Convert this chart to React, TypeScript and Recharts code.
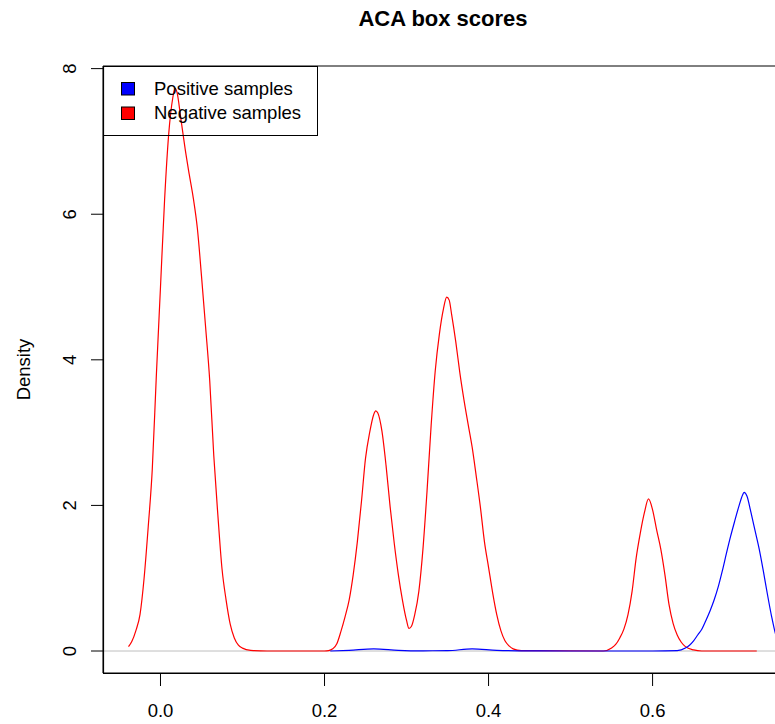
import React from "react";
import { LineChart, Line, XAxis, YAxis, ReferenceLine } from "recharts";

// Kernel density estimates of the ACA box scores, per class.
const negativeSamples = [
  { x: -0.039, y: 0.06 },
  { x: -0.035, y: 0.13 },
  { x: -0.03, y: 0.28 },
  { x: -0.025, y: 0.5 },
  { x: -0.02, y: 1.0 },
  { x: -0.015, y: 1.7 },
  { x: -0.01, y: 2.5 },
  { x: -0.005, y: 3.8 },
  { x: 0.0, y: 5.0 },
  { x: 0.005, y: 6.2 },
  { x: 0.01, y: 7.1 },
  { x: 0.015, y: 7.6 },
  { x: 0.0177, y: 7.73 },
  { x: 0.02, y: 7.68 },
  { x: 0.025, y: 7.3 },
  { x: 0.03, y: 6.9 },
  { x: 0.035, y: 6.55 },
  { x: 0.04, y: 6.22 },
  { x: 0.045, y: 5.8 },
  { x: 0.05, y: 5.15 },
  { x: 0.055, y: 4.45 },
  { x: 0.06, y: 3.72 },
  { x: 0.065, y: 2.68 },
  { x: 0.07, y: 1.86 },
  { x: 0.075, y: 1.13 },
  { x: 0.08, y: 0.7 },
  { x: 0.085, y: 0.37 },
  { x: 0.09, y: 0.18 },
  { x: 0.095, y: 0.08 },
  { x: 0.1, y: 0.04 },
  { x: 0.11, y: 0.01 },
  { x: 0.13, y: 0 },
  { x: 0.2, y: 0 },
  { x: 0.205, y: 0.005 },
  { x: 0.21, y: 0.03 },
  { x: 0.215, y: 0.1 },
  { x: 0.22, y: 0.27 },
  { x: 0.225, y: 0.47 },
  { x: 0.23, y: 0.7 },
  { x: 0.235, y: 1.05 },
  { x: 0.24, y: 1.5 },
  { x: 0.245, y: 2.05 },
  { x: 0.25, y: 2.65 },
  { x: 0.255, y: 3.0 },
  { x: 0.26, y: 3.25 },
  { x: 0.2624, y: 3.3 },
  { x: 0.265, y: 3.27 },
  { x: 0.27, y: 3.02 },
  { x: 0.275, y: 2.55 },
  { x: 0.28, y: 1.98 },
  { x: 0.285, y: 1.48 },
  { x: 0.29, y: 1.05 },
  { x: 0.295, y: 0.7 },
  { x: 0.3, y: 0.42 },
  { x: 0.303, y: 0.31 },
  { x: 0.306, y: 0.34 },
  { x: 0.31, y: 0.5 },
  { x: 0.315, y: 0.82 },
  { x: 0.32, y: 1.4 },
  { x: 0.325, y: 2.2 },
  { x: 0.33, y: 3.1 },
  { x: 0.335, y: 3.85 },
  { x: 0.34, y: 4.35 },
  { x: 0.345, y: 4.7 },
  { x: 0.349, y: 4.86 },
  { x: 0.352, y: 4.82 },
  { x: 0.355, y: 4.62 },
  { x: 0.36, y: 4.25 },
  { x: 0.365, y: 3.82 },
  { x: 0.37, y: 3.45 },
  { x: 0.375, y: 3.12 },
  { x: 0.38, y: 2.8 },
  { x: 0.385, y: 2.4 },
  { x: 0.39, y: 1.98 },
  { x: 0.395, y: 1.5 },
  { x: 0.4, y: 1.15 },
  { x: 0.405, y: 0.8 },
  { x: 0.41, y: 0.5 },
  { x: 0.415, y: 0.28 },
  { x: 0.42, y: 0.14 },
  { x: 0.425, y: 0.07 },
  { x: 0.43, y: 0.03 },
  { x: 0.44, y: 0.005 },
  { x: 0.54, y: 0 },
  { x: 0.55, y: 0.04 },
  { x: 0.555, y: 0.09 },
  { x: 0.56, y: 0.18 },
  { x: 0.565, y: 0.3 },
  { x: 0.57, y: 0.5 },
  { x: 0.575, y: 0.82 },
  { x: 0.58, y: 1.28 },
  { x: 0.585, y: 1.62 },
  { x: 0.59, y: 1.9 },
  { x: 0.595, y: 2.09 },
  { x: 0.6, y: 1.94 },
  { x: 0.605, y: 1.66 },
  { x: 0.61, y: 1.4 },
  { x: 0.615, y: 1.05 },
  { x: 0.62, y: 0.64 },
  { x: 0.625, y: 0.38 },
  { x: 0.63, y: 0.22 },
  { x: 0.635, y: 0.12 },
  { x: 0.64, y: 0.06 },
  { x: 0.65, y: 0.015 },
  { x: 0.66, y: 0 },
  { x: 0.727, y: 0 },
];

const positiveSamples = [
  { x: 0.207, y: 0 },
  { x: 0.23, y: 0.01 },
  { x: 0.26, y: 0.03 },
  { x: 0.29, y: 0.01 },
  { x: 0.32, y: 0.003 },
  { x: 0.35, y: 0.005 },
  { x: 0.38, y: 0.03 },
  { x: 0.41, y: 0.01 },
  { x: 0.45, y: 0.002 },
  { x: 0.5, y: 0 },
  { x: 0.6, y: 0 },
  { x: 0.63, y: 0.005 },
  { x: 0.64, y: 0.04 },
  { x: 0.645, y: 0.08 },
  { x: 0.65, y: 0.14 },
  { x: 0.655, y: 0.22 },
  { x: 0.66, y: 0.3 },
  { x: 0.665, y: 0.42 },
  { x: 0.67, y: 0.55 },
  { x: 0.675, y: 0.7 },
  { x: 0.68, y: 0.88 },
  { x: 0.685, y: 1.1 },
  { x: 0.69, y: 1.34 },
  { x: 0.695, y: 1.57 },
  { x: 0.7, y: 1.78 },
  { x: 0.705, y: 1.98 },
  { x: 0.71, y: 2.15 },
  { x: 0.7116, y: 2.18 },
  { x: 0.715, y: 2.13 },
  { x: 0.72, y: 1.9 },
  { x: 0.725, y: 1.65 },
  { x: 0.73, y: 1.4 },
  { x: 0.735, y: 1.1 },
  { x: 0.74, y: 0.78 },
  { x: 0.745, y: 0.48 },
  { x: 0.75, y: 0.23 },
  { x: 0.755, y: 0.1 },
  { x: 0.76, y: 0.04 },
];

const xTicks = [0, 0.2, 0.4, 0.6];
const yTicks = [0, 2, 4, 6, 8];
const xDomain: [number, number] = [-0.0701, 0.759];
const yDomain: [number, number] = [-0.302, 8.036];

const chartTitle = "ACA box scores";
const yLabel = "Density";
const legendItems = [
  { label: "Positive samples", color: "#0000ff" },
  { label: "Negative samples", color: "#ff0000" },
];

const FONT = "'Liberation Sans', Arial, Helvetica, sans-serif";
const AXIS = "#000";

const XTick = (props: any) => {
  const { x, y, payload } = props;
  return (
    <text x={x} y={y + 31} textAnchor="middle" fontSize={18.5} fontFamily={FONT} fill="#000">
      {Number(payload.value).toFixed(1)}
    </text>
  );
};

const YTick = (props: any) => {
  const { x, y, payload } = props;
  const tx = x - 15;
  return (
    <text
      x={tx}
      y={y}
      transform={`rotate(-90, ${tx}, ${y})`}
      textAnchor="middle"
      fontSize={18.5}
      fontFamily={FONT}
      fill="#000"
    >
      {String(payload.value)}
    </text>
  );
};

export default function App() {
  return (
    <div
      style={{
        position: "fixed",
        left: 0,
        top: 0,
        width: 775,
        height: 724,
        overflow: "hidden",
        background: "#fff",
      }}
    >
      <LineChart
        width={800}
        height={724}
        margin={{ top: 66, right: 17, bottom: 11, left: 43 }}
      >
        <XAxis
          type="number"
          dataKey="x"
          domain={xDomain}
          ticks={xTicks}
          allowDataOverflow
          height={40}
          tickSize={13}
          tickMargin={0}
          tick={<XTick />}
          axisLine={{ stroke: AXIS, strokeWidth: 1 }}
          tickLine={{ stroke: AXIS, strokeWidth: 1 }}
        />
        <YAxis
          type="number"
          dataKey="y"
          domain={yDomain}
          ticks={yTicks}
          allowDataOverflow
          width={60}
          tickSize={12}
          tickMargin={0}
          tick={<YTick />}
          axisLine={{ stroke: AXIS, strokeWidth: 1 }}
          tickLine={{ stroke: AXIS, strokeWidth: 1 }}
        />
        <ReferenceLine y={0} stroke="#bebebe" strokeWidth={1} />
        <ReferenceLine y={yDomain[1]} stroke={AXIS} strokeWidth={1} ifOverflow="visible" />
        <Line
          data={negativeSamples}
          dataKey="y"
          type="monotone"
          stroke="#ff0000"
          strokeWidth={1.2}
          dot={false}
          isAnimationActive={false}
        />
        <Line
          data={positiveSamples}
          dataKey="y"
          type="monotone"
          stroke="#0000ff"
          strokeWidth={1.2}
          dot={false}
          isAnimationActive={false}
        />
      </LineChart>
      {/* title, axis title, plot box and legend drawn over the chart surface */}
      <svg
        width={800}
        height={724}
        style={{ position: "absolute", left: 0, top: 0, pointerEvents: "none" }}
        fontFamily={FONT}
      >
        <text x={443} y={26} textAnchor="middle" fontSize={22} fontWeight="bold" fill="#000">
          {chartTitle}
        </text>
        <text
          x={30}
          y={369.5}
          transform="rotate(-90, 30, 369.5)"
          textAnchor="middle"
          fontSize={18.5}
          fill="#000"
        >
          {yLabel}
        </text>
        <line x1={103.5} y1={66} x2={103.5} y2={673.5} stroke="#000" strokeWidth={1.2} />
        <line x1={103} y1={673.5} x2={800} y2={673.5} stroke="#000" strokeWidth={1.2} />
        <rect x={103.5} y={66.5} width={214} height={69} fill="none" stroke="#000" strokeWidth={1} />
        {legendItems.map((item, i) => (
          <g key={item.label}>
            <rect
              x={121.5}
              y={82.5 + i * 24.5}
              width={13}
              height={12.5}
              fill={item.color}
              stroke="#000"
              strokeWidth={1}
            />
            <text x={154} y={95 + i * 23.5} fontSize={18.5} fill="#000">
              {item.label}
            </text>
          </g>
        ))}
      </svg>
    </div>
  );
}
